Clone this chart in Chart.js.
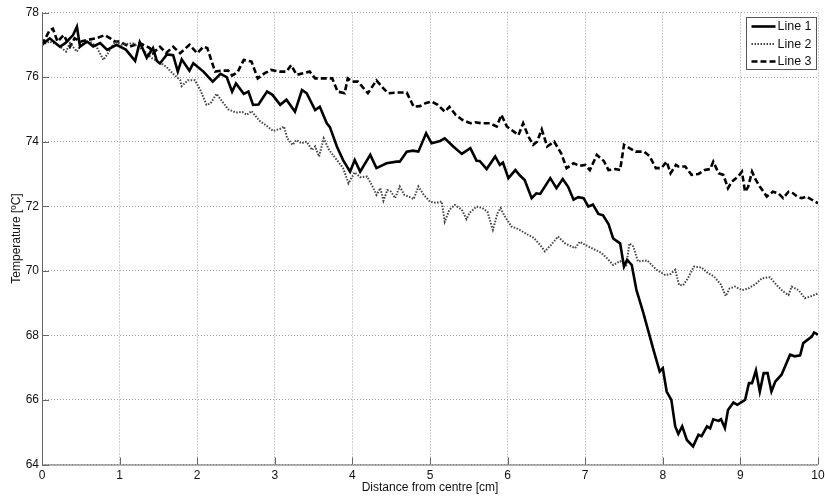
<!DOCTYPE html>
<html>
<head>
<meta charset="utf-8">
<script src="https://cdn.jsdelivr.net/npm/chart.js@4.4.1/dist/chart.umd.min.js"></script>
<style>
  body { margin: 0; background: #fff; }
  #wrap { position: relative; width: 825px; height: 502px; }
</style>
</head>
<body>
<div id="wrap"><canvas id="myChart" width="825" height="502"></canvas></div>
<script>
// values
const line1X = [0.00,0.10,0.23,0.30,0.40,0.45,0.49,0.58,0.66,0.75,0.84,0.96,1.08,1.20,1.26,1.35,1.43,1.48,1.52,1.61,1.69,1.75,1.80,1.90,1.95,2.08,2.20,2.30,2.38,2.45,2.50,2.60,2.66,2.72,2.79,2.90,2.97,3.07,3.15,3.26,3.35,3.41,3.52,3.58,3.67,3.71,3.80,3.88,3.97,4.03,4.10,4.23,4.31,4.44,4.57,4.61,4.70,4.78,4.85,4.95,5.02,5.13,5.19,5.30,5.41,5.52,5.60,5.64,5.73,5.84,5.90,5.94,6.01,6.10,6.16,6.22,6.31,6.37,6.42,6.55,6.63,6.71,6.78,6.85,6.91,6.98,7.04,7.10,7.17,7.23,7.30,7.36,7.45,7.50,7.54,7.60,7.66,7.75,7.88,7.96,8.00,8.05,8.11,8.16,8.20,8.25,8.31,8.39,8.46,8.50,8.57,8.61,8.65,8.72,8.75,8.80,8.84,8.91,8.96,9.06,9.11,9.15,9.20,9.25,9.30,9.35,9.40,9.45,9.53,9.64,9.70,9.77,9.81,9.92,9.95,10.00];
const line1Y = [77.00,77.20,76.94,77.05,77.30,77.56,76.94,77.10,76.95,77.05,76.84,77.00,76.85,76.50,77.08,76.60,76.90,76.50,76.42,76.70,76.68,76.17,76.55,76.20,76.43,76.17,75.86,76.10,76.00,75.55,75.80,75.48,75.55,75.14,75.15,75.55,75.45,75.14,75.30,74.93,75.60,75.50,74.98,75.08,74.57,74.45,73.85,73.43,73.07,73.43,73.07,73.59,73.18,73.33,73.38,73.38,73.69,73.72,73.69,74.26,73.95,74.02,74.10,73.85,73.62,73.80,73.41,73.40,73.15,73.54,73.28,73.35,72.87,73.12,72.95,72.81,72.25,72.40,72.38,72.87,72.56,72.84,72.60,72.20,72.28,72.25,71.99,72.05,71.76,71.72,71.45,71.00,70.85,70.13,70.34,70.18,69.41,68.69,67.55,66.88,66.98,66.26,66.00,65.18,64.95,65.18,64.76,64.56,64.92,64.88,65.18,65.12,65.40,65.35,65.40,65.13,65.69,65.92,65.85,66.00,66.52,66.52,66.91,66.26,66.83,66.83,66.26,66.57,66.78,67.40,67.35,67.38,67.76,67.96,68.09,68.02];

const line2X = [0.00,0.10,0.20,0.31,0.36,0.45,0.50,0.62,0.70,0.79,0.84,0.94,1.03,1.17,1.30,1.42,1.52,1.60,1.69,1.78,1.80,1.88,1.97,2.04,2.12,2.17,2.25,2.32,2.40,2.50,2.58,2.64,2.70,2.80,2.89,2.98,3.07,3.12,3.16,3.23,3.28,3.34,3.41,3.48,3.52,3.57,3.63,3.70,3.80,3.88,3.95,4.03,4.10,4.19,4.27,4.31,4.36,4.40,4.45,4.50,4.55,4.61,4.67,4.74,4.79,4.85,4.92,5.00,5.08,5.15,5.19,5.25,5.32,5.41,5.47,5.51,5.60,5.67,5.74,5.81,5.87,5.91,5.96,6.05,6.13,6.23,6.34,6.42,6.48,6.56,6.65,6.74,6.87,6.93,7.04,7.13,7.21,7.28,7.36,7.45,7.53,7.57,7.62,7.68,7.80,7.92,8.03,8.10,8.16,8.21,8.26,8.32,8.40,8.50,8.57,8.66,8.75,8.81,8.86,8.93,9.02,9.10,9.20,9.28,9.38,9.47,9.55,9.62,9.66,9.75,9.83,9.90,10.00];
const line2Y = [77.00,77.10,77.00,76.79,77.05,76.79,77.00,77.10,76.95,76.53,76.70,77.10,77.00,77.05,76.84,76.58,76.45,76.32,76.10,75.91,75.72,75.90,75.90,75.60,75.14,75.18,75.48,75.25,75.00,74.90,74.92,74.83,74.95,74.65,74.50,74.33,74.40,74.47,74.10,73.90,74.05,73.95,74.00,73.74,73.85,73.54,74.10,73.74,73.43,73.18,72.71,73.05,72.90,72.92,72.56,72.35,72.56,72.17,72.50,72.45,72.25,72.61,72.35,72.28,72.22,72.61,72.35,72.14,72.10,72.15,71.52,71.89,72.04,71.89,71.60,71.80,71.99,71.95,71.83,71.27,71.78,71.94,71.70,71.37,71.30,71.16,71.01,70.80,70.60,70.80,71.06,70.85,70.70,70.90,70.75,70.65,70.55,70.39,70.18,70.30,70.18,70.85,70.75,70.29,70.32,70.03,69.87,69.90,70.03,69.56,69.55,69.75,70.13,70.10,69.95,69.82,69.57,69.22,69.45,69.51,69.40,69.45,69.60,69.77,69.80,69.55,69.36,69.25,69.51,69.40,69.15,69.20,69.30];

const line3X = [0.00,0.10,0.14,0.20,0.28,0.36,0.42,0.50,0.58,0.70,0.81,0.88,0.94,1.00,1.13,1.26,1.39,1.43,1.52,1.60,1.69,1.78,1.90,2.00,2.08,2.13,2.23,2.31,2.40,2.45,2.52,2.60,2.70,2.78,2.87,2.95,3.06,3.15,3.21,3.28,3.37,3.45,3.52,3.60,3.74,3.81,3.90,3.94,4.00,4.07,4.20,4.31,4.40,4.46,4.57,4.70,4.79,4.87,4.95,5.02,5.10,5.19,5.25,5.33,5.42,5.52,5.58,5.66,5.77,5.86,5.92,5.99,6.08,6.14,6.20,6.27,6.33,6.38,6.44,6.51,6.60,6.69,6.76,6.85,6.93,7.00,7.06,7.15,7.24,7.30,7.39,7.45,7.50,7.57,7.65,7.76,7.83,7.91,7.98,8.05,8.10,8.17,8.20,8.29,8.37,8.46,8.54,8.61,8.65,8.72,8.78,8.84,8.89,8.97,9.02,9.06,9.10,9.15,9.19,9.25,9.34,9.42,9.49,9.55,9.62,9.68,9.73,9.79,9.85,9.92,10.00];
const line3Y = [77.00,77.46,77.50,77.10,77.30,76.94,77.20,77.10,77.15,77.20,77.30,77.20,77.10,77.10,76.94,77.05,76.90,76.74,76.94,76.75,76.94,76.74,77.00,76.74,76.94,76.90,76.17,76.20,76.20,76.05,76.15,76.53,76.48,75.96,76.12,76.22,76.17,76.17,76.37,76.07,76.12,76.17,75.96,75.96,75.96,75.55,75.50,75.96,75.86,75.86,75.50,75.90,75.65,75.50,75.52,75.52,75.08,75.10,75.20,75.24,75.14,74.93,75.08,74.83,74.67,74.57,74.60,74.57,74.57,74.47,74.83,74.47,74.31,74.20,74.57,74.15,73.90,74.00,74.38,73.85,74.00,73.64,73.18,73.33,73.25,73.28,73.12,73.59,73.40,73.12,73.15,73.12,73.90,73.80,73.69,73.69,73.55,73.18,73.18,73.38,73.02,73.28,73.23,73.23,72.97,73.00,73.12,73.15,73.38,73.02,72.97,72.56,72.76,72.92,73.07,72.45,72.60,73.07,72.85,72.61,72.30,72.45,72.40,72.25,72.45,72.40,72.30,72.25,72.30,72.20,72.09];

const seriesLabels = ['Line 1', 'Line 2', 'Line 3'];
const xTicks = [0,1,2,3,4,5,6,7,8,9,10];
const yTicks = [64,66,68,70,72,74,76,78];

const pts = (xs, ys) => xs.map((x, i) => ({x: x, y: ys[i]}));

const FONT = 'Liberation Sans, Arial, Helvetica, sans-serif';

// axis lines, inward ticks and the boxed legend, drawn on top
const matlabAxes = {
    id: 'matlabAxes',
    afterDraw(chart) {
        const ctx = chart.ctx;
        const a = chart.chartArea;
        const xs = chart.scales.x, ys = chart.scales.y;
        ctx.save();
        ctx.strokeStyle = '#666';
        ctx.lineWidth = 1;
        ctx.setLineDash([]);
        ctx.beginPath();
        ctx.moveTo(a.left + 0.5, a.top);
        ctx.lineTo(a.left + 0.5, a.bottom + 0.5);
        ctx.lineTo(a.right, a.bottom + 0.5);
        xTicks.forEach(v => {
            const px = Math.round(xs.getPixelForValue(v)) + 0.5;
            ctx.moveTo(px, a.bottom);
            ctx.lineTo(px, a.bottom - 7);
        });
        yTicks.forEach(v => {
            const py = Math.round(ys.getPixelForValue(v)) + 0.5;
            ctx.moveTo(a.left, py);
            ctx.lineTo(a.left + 7, py);
        });
        ctx.stroke();

        // legend
        const bx = 746.5, by = 17.5, bw = 70, bh = 52;
        ctx.fillStyle = '#fff';
        ctx.fillRect(bx, by, bw, bh);
        ctx.strokeStyle = '#555';
        ctx.strokeRect(bx, by, bw, bh);
        ctx.font = '12.5px ' + FONT;
        ctx.textBaseline = 'middle';
        ctx.textAlign = 'left';
        chart.data.datasets.forEach((ds, i) => {
            const y = by + 9 + i * 17.5;
            ctx.beginPath();
            ctx.strokeStyle = ds.borderColor;
            ctx.lineWidth = ds.borderWidth;
            ctx.setLineDash(ds.borderDash || []);
            ctx.moveTo(bx + 5, y);
            ctx.lineTo(bx + 29, y);
            ctx.stroke();
            ctx.fillStyle = '#111';
            ctx.fillText(ds.label, bx + 31, y + 0.5);
        });
        ctx.restore();
    }
};

const data = {
    datasets: [{
        label: seriesLabels[0],
        data: pts(line1X, line1Y),
        borderColor: '#000',
        borderWidth: 2.6,
        borderDash: []
    }, {
        label: seriesLabels[1],
        data: pts(line2X, line2Y),
        borderColor: '#444',
        borderWidth: 2,
        borderDash: [1.5, 1.5]
    }, {
        label: seriesLabels[2],
        data: pts(line3X, line3Y),
        borderColor: '#000',
        borderWidth: 2.6,
        borderDash: [6, 3]
    }]
};

const gridStyle = {
    color: '#a0a0a0',
    lineWidth: 1,
    drawTicks: false
};

const options = {
    responsive: false,
    animation: false,
    devicePixelRatio: 1,
    layout: { padding: { left: 0, right: 7, top: 12.5, bottom: 0 } },
    elements: {
        point: { radius: 0 },
        line: { tension: 0, fill: false }
    },
    plugins: {
        legend: { display: false },
        tooltip: { enabled: false }
    },
    scales: {
        x: {
            type: 'linear',
            min: 0, max: 10,
            afterBuildTicks: s => { s.ticks = xTicks.map(v => ({value: v})); },
            grid: gridStyle,
            border: { display: false, dash: [1, 2] },
            ticks: { color: '#111', font: { family: FONT, size: 12 }, padding: 4, maxRotation: 0 },
            title: {
                display: true, text: 'Distance from centre [cm]', color: '#111',
                font: { family: FONT, size: 12 }, padding: { top: 0, bottom: 7 }
            },
            // keep the plot edge at the window edge; the "10" may run off as in the source
            afterFit: s => { s.height = 37.5; s.paddingRight = 0; s.paddingLeft = 0; }
        },
        y: {
            min: 64, max: 78,
            afterBuildTicks: s => { s.ticks = yTicks.map(v => ({value: v})); },
            grid: gridStyle,
            border: { display: false, dash: [1, 2] },
            ticks: { color: '#111', font: { family: FONT, size: 12 }, padding: 3 },
            title: {
                display: true, text: 'Temperature [ºC]', color: '#111',
                font: { family: FONT, size: 12 }, padding: { top: 9, bottom: 0 }
            },
            afterFit: s => { s.width = 42; s.paddingTop = 0; s.paddingBottom = 0; }
        }
    }
};

const myChart = new Chart(document.getElementById('myChart'), {
    type: 'line',
    data: data,
    options: options,
    plugins: [matlabAxes]
});
</script>
</body>
</html>
